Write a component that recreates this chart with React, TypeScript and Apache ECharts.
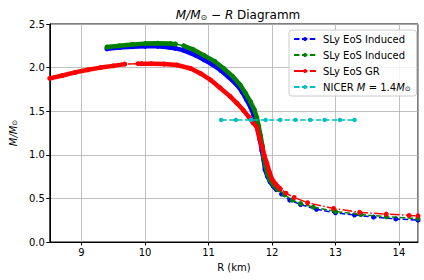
import React, { useEffect, useRef } from "react";
import * as echarts from "echarts";

// ---- data (R in km, M in solar masses) ----
// dense parts (null = a visible gap between two neighbouring points)
const blueDenseR = [9.4, 9.6, 9.8, 10.0, 10.2, 10.4, 10.48, 10.6, 10.8, 10.93, 11.05, 11.19, 11.32, 11.45, 11.53, 11.6, 11.66, 11.71, 11.75, 11.78, 11.81, 11.84, 11.87, 11.89, 11.93, 11.97, 12.02, 12.07];
const blueDenseM = [2.215, 2.23, 2.24, 2.245, 2.245, 2.23, 2.22, 2.2, 2.14, 2.09, 2.04, 1.97, 1.89, 1.8, 1.72, 1.63, 1.55, 1.46, 1.38, 1.28, 1.17, 1.05, 0.94, 0.83, 0.75, 0.69, 0.64, 0.6];
const blueTailR = [12.15, 12.28, 12.45, 12.7, 13.0, 13.3, 13.6, 13.95, 14.3];
const blueTailM = [0.55, 0.48, 0.43, 0.375, 0.335, 0.31, 0.285, 0.265, 0.25];

const greenDenseR = [9.4, 9.6, 9.8, 10.0, 10.2, 10.4, 10.48, null, 10.61, 10.75, 10.93, 11.1, 11.24, 11.38, 11.5, 11.58, 11.66, 11.72, 11.76, 11.79, 11.82, 11.85, 11.87, 11.9, 11.93, 11.97, 12.03, 12.1];
const greenDenseM = [2.235, 2.25, 2.265, 2.275, 2.28, 2.275, 2.27, null, 2.25, 2.21, 2.14, 2.07, 1.99, 1.9, 1.8, 1.71, 1.61, 1.52, 1.43, 1.33, 1.22, 1.1, 0.98, 0.87, 0.78, 0.71, 0.65, 0.6];
const greenTailR = [12.2, 12.32, 12.45, 12.65, 13.0, 13.4, 13.8, 14.3];
const greenTailM = [0.54, 0.48, 0.44, 0.4, 0.35, 0.315, 0.29, 0.27];

const redDenseR = [8.5, 8.7, 8.9, 9.1, 9.3, 9.5, 9.68, null, 9.89, null, 9.94, 10.1, 10.3, 10.5, 10.72, 10.88, 11.03, 11.18, 11.34, 11.45, 11.55, 11.64, 11.7, 11.76, 11.8, 11.84, 11.88, 11.92, 11.96, 12.0, 12.06, 12.13];
const redDenseM = [1.877, 1.91, 1.945, 1.975, 2.0, 2.02, 2.04, null, 2.045, null, 2.045, 2.045, 2.04, 2.03, 1.99, 1.93, 1.86, 1.77, 1.67, 1.59, 1.51, 1.43, 1.37, 1.32, 1.2, 1.1, 0.99, 0.9, 0.8, 0.72, 0.66, 0.61];
const redTailR = [12.22, 12.35, 12.56, 12.97, 13.38, 13.8, 14.16, 14.3];
const redTailM = [0.56, 0.51, 0.45, 0.385, 0.34, 0.32, 0.305, 0.3];

const nicerR = [11.2, 11.43, 11.67, 11.9, 12.13, 12.37, 12.6, 12.83, 13.07, 13.3];
const nicerM = [1.4, 1.4, 1.4, 1.4, 1.4, 1.4, 1.4, 1.4, 1.4, 1.4];

const xTicks = [9, 10, 11, 12, 13, 14];
const yTicks = [0.0, 0.5, 1.0, 1.5, 2.0, 2.5];

const FONT = "DejaVu Sans";

function withGaps(r: (number | null)[], m: (number | null)[]) {
  return r.map((x, i) => (x === null || m[i] === null ? ["-", "-"] : [x, m[i]]));
}
function full(dr: (number | null)[], dm: (number | null)[], tr: number[], tm: number[]) {
  const out: number[][] = [];
  dr.forEach((x, i) => {
    if (x !== null && dm[i] !== null) out.push([x, dm[i] as number]);
  });
  tr.forEach((x, i) => out.push([x, tm[i]]));
  return out;
}

const DASH = [5.5, 2.4];
const DASHDOT = [9.6, 2.4, 1.5, 2.4];

function thick(id: string, color: string, data: any[], z: number) {
  return {
    id,
    name: id,
    type: "line",
    data,
    symbol: "none",
    silent: true,
    z,
    connectNulls: false,
    lineStyle: { width: 4.5, color, cap: "round", join: "round", opacity: 1 },
  };
}
function thin(name: string, color: string, data: any[], dash: number[], z: number) {
  return {
    name,
    type: "line",
    data,
    z,
    symbol: "circle",
    symbolSize: 5,
    showAllSymbol: true,
    itemStyle: { color, borderWidth: 0 },
    lineStyle: { width: 1.5, color, type: dash },
  };
}

const legendNames: Record<string, string> = {
  "SLy EoS Induced#1": "SLy EoS Induced",
  "SLy EoS Induced#2": "SLy EoS Induced",
  "SLy EoS GR": "SLy EoS GR",
  NICER: "NICER {i|M} = 1.4{i|M}{s|⊙}",
};

export default function App() {
  const ref = useRef<HTMLDivElement>(null);
  useEffect(() => {
    if (!ref.current) return;
    const chart = echarts.init(ref.current, undefined, { renderer: "svg" });
    const blue = "#0000ff";
    const green = "#008000";
    const red = "#ff0000";
    const cyan = "#00bfbf";
    chart.setOption({
      animation: false,
      backgroundColor: "#ffffff",
      textStyle: { fontFamily: FONT },
      title: {
        text: "{i|M/M}{s|⊙}{n| − }{i|R}{n| Diagramm}",
        left: 233,
        textAlign: "center",
        top: 4,
        textStyle: {
          fontWeight: "normal",
          rich: {
            i: { fontFamily: FONT, fontSize: 12, fontStyle: "italic", fontWeight: "normal", color: "#000" },
            n: { fontFamily: FONT, fontSize: 12, fontWeight: "normal", color: "#000" },
            s: { fontFamily: FONT, fontSize: 8, fontWeight: "normal", color: "#000", padding: [4, 0, 0, 0] },
          },
        },
      },
      grid: {
        left: 48,
        right: 6,
        top: 24,
        bottom: 38,
        show: true,
        borderColor: "#000",
        borderWidth: 1,
        backgroundColor: "transparent",
      },
      legend: {
        data: ["SLy EoS Induced#1", "SLy EoS Induced#2", "SLy EoS GR", "NICER"],
        orient: "vertical",
        left: 289,
        top: 30,
        itemWidth: 22,
        itemHeight: 5,
        itemGap: 4,
        padding: [3, 6, 3, 4],
        backgroundColor: "rgba(255,255,255,0.8)",
        borderColor: "#cccccc",
        borderWidth: 1,
        borderRadius: 3,
        formatter: (name: string) => legendNames[name] ?? name,
        textStyle: {
          fontFamily: FONT,
          fontSize: 10,
          color: "#000",
          padding: [0, 0, 0, 2],
          lineHeight: 12,
          rich: {
            i: { fontFamily: FONT, fontSize: 10, fontStyle: "italic", color: "#000" },
            s: { fontFamily: FONT, fontSize: 7, color: "#000", padding: [4, 0, 0, 0] },
          },
        },
      },
      xAxis: {
        type: "value",
        min: 8.5,
        max: 14.3,
        splitNumber: 6,
        name: "R (km)",
        nameLocation: "middle",
        nameGap: 20,
        nameTextStyle: { fontFamily: FONT, fontSize: 10, color: "#000" },
        axisLine: { show: true, onZero: false, lineStyle: { color: "#000", width: 1 } },
        axisTick: { show: true, inside: false, length: 3.5, lineStyle: { color: "#000" } },
        axisLabel: {
          color: "#000",
          fontFamily: FONT,
          fontSize: 10,
          margin: 5,
          showMinLabel: false,
          showMaxLabel: false,
          formatter: (v: number) => (xTicks.includes(v) ? String(v) : ""),
        },
        splitLine: { show: true, lineStyle: { color: "#b0b0b0", width: 0.8 } },
      },
      yAxis: {
        type: "value",
        min: 0,
        max: 2.5,
        interval: 0.5,
        name: "{i|M/M}{s|⊙}",
        nameLocation: "middle",
        nameRotate: 90,
        nameGap: 28,
        nameTextStyle: {
          rich: {
            i: { fontFamily: FONT, fontSize: 10, fontStyle: "italic", color: "#000" },
            s: { fontFamily: FONT, fontSize: 7, color: "#000", padding: [3, 0, 0, 0] },
          },
        },
        axisLine: { show: true, onZero: false, lineStyle: { color: "#000", width: 1 } },
        axisTick: { show: true, inside: false, length: 3.5, lineStyle: { color: "#000" } },
        axisLabel: {
          color: "#000",
          fontFamily: FONT,
          fontSize: 10,
          margin: 5,
          formatter: (v: number) => (yTicks.some((t) => Math.abs(t - v) < 1e-9) ? v.toFixed(1) : ""),
        },
        splitLine: { show: true, lineStyle: { color: "#b0b0b0", width: 0.8 } },
      },
      series: [
        thick("_blueDense", blue, withGaps(blueDenseR, blueDenseM), 2),
        thin("SLy EoS Induced#1", blue, full(blueDenseR, blueDenseM, blueTailR, blueTailM), DASH, 3),
        thick("_greenDense", green, withGaps(greenDenseR, greenDenseM), 4),
        thin("SLy EoS Induced#2", green, full(greenDenseR, greenDenseM, greenTailR, greenTailM), DASH, 5),
        thick("_redDense", red, withGaps(redDenseR, redDenseM), 6),
        thin("SLy EoS GR", red, full(redDenseR, redDenseM, redTailR, redTailM), DASHDOT, 7),
        {
          name: "NICER",
          type: "line",
          data: nicerR.map((x, i) => [x, nicerM[i]]),
          z: 8,
          symbol: "circle",
          symbolSize: 4.5,
          showAllSymbol: true,
          itemStyle: { color: cyan, borderWidth: 0 },
          lineStyle: { width: 1.5, color: cyan, type: DASH },
        },
      ],
    });
    return () => chart.dispose();
  }, []);
  return <div ref={ref} style={{ width: 424, height: 280, position: "absolute", left: 0, top: 0 }} />;
}
